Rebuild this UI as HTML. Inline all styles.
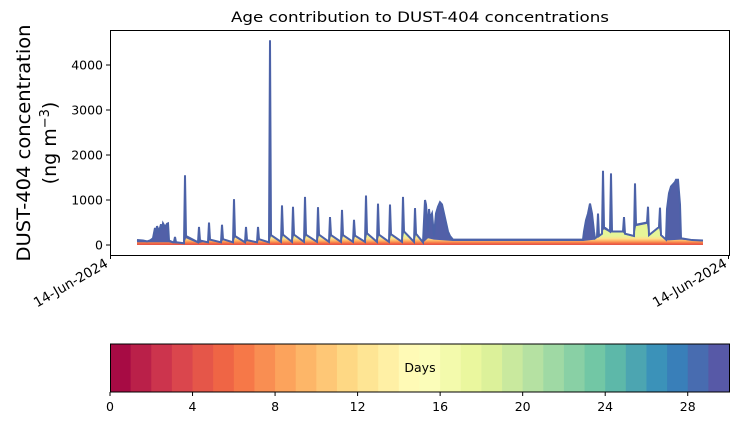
<!DOCTYPE html>
<html><head><meta charset="utf-8"><style>
body{margin:0;background:#fff;font-family:"Liberation Sans","DejaVu Sans",sans-serif}
svg text{font-family:"DejaVu Sans","Liberation Sans",sans-serif}
</style></head><body>
<svg id="c" width="739" height="425" viewBox="0 0 739 425" xmlns="http://www.w3.org/2000/svg">
<defs>
<linearGradient id="lg" x1="0" y1="245" x2="0" y2="236" gradientUnits="userSpaceOnUse">
<stop offset="0" stop-color="#e0504a"/><stop offset="0.2" stop-color="#f46d43"/><stop offset="0.45" stop-color="#fdae61"/><stop offset="0.7" stop-color="#fee08b"/><stop offset="1" stop-color="#e6f598"/>
</linearGradient>
</defs>
<text x="420" y="22" font-size="14.5" text-anchor="middle" textLength="378" lengthAdjust="spacingAndGlyphs">Age contribution to DUST-404 concentrations</text>
<g id="plot"></g>
<rect x="110.5" y="30.5" width="619" height="225" fill="none" stroke="#000" stroke-width="1"/>
<g id="yax"></g>
<text transform="translate(30,143) rotate(-90)" font-size="19" text-anchor="middle" textLength="237" lengthAdjust="spacingAndGlyphs">DUST-404 concentration</text>
<text transform="translate(56,143) rotate(-90)" font-size="19" text-anchor="middle">(ng m<tspan dy="-7" font-size="13">−3</tspan><tspan dy="7">)</tspan></text>
<line x1="110.5" y1="255" x2="110.5" y2="259" stroke="#000"/>
<line x1="728.5" y1="255" x2="728.5" y2="259" stroke="#000"/>
<text transform="translate(109,266) rotate(-30)" font-size="13.5" text-anchor="end">14-Jun-2024</text>
<text transform="translate(728,266) rotate(-30)" font-size="13.5" text-anchor="end">14-Jun-2024</text>
<g id="cb"></g>
</svg>
<script>
const totals=[[27,110],[33,100],[37,80],[40,100],[43,150],[45,380],[46,250],[47,420],[49,300],[51,460],[52,350],[53,480],[55,400],[57,470],[58,480],[59,100],[63,60],[64,70],[65,180],[66,60],[74,40],[75,1550],[76,200],[88,60],[89,400],[90,100],[98,60],[99,500],[100,120],[111,60],[112,450],[113,130],[123,60],[124,1020],[125,200],[135,60],[136,400],[137,110],[147,60],[148,400],[149,130],[159,60],[160,4550],[161,220],[171,70],[172,880],[173,230],[182,70],[183,850],[184,230],[194,70],[195,1070],[196,230],[207,70],[208,840],[209,230],[219,70],[220,620],[221,220],[231,70],[232,780],[233,220],[243,70],[244,560],[245,210],[255,70],[256,1100],[257,260],[267,70],[268,920],[269,230],[279,70],[280,900],[281,240],[292,70],[293,1070],[294,300],[304,70],[305,820],[306,250],[313,60],[315,1000],[316,900],[318,300],[319,800],[320,600],[322,700],[324,200],[326,700],[328,850],[330,950],[332,900],[334,700],[336,500],[338,300],[340,200],[343,120],[353,120],[473,120],[474,300],[476,550],[478,700],[480,920],[482,700],[484,300],[485,150],[487,180],[488,700],[489,200],[492,250],[493,1650],[494,400],[500,300],[501,1590],[502,300],[513,300],[514,620],[515,250],[524,200],[525,1370],[526,450],[537,500],[538,850],[539,220],[549,400],[550,830],[551,220],[556,120],[557,800],[559,1150],[561,1300],[563,1350],[565,1400],[566,1450],[568,1450],[570,900],[571,150],[582,110],[593,100]];
const aged=[[27,60],[59,60],[63,40],[74,30],[76,150],[88,40],[100,100],[111,40],[113,110],[123,40],[125,170],[135,40],[137,90],[147,40],[149,110],[159,40],[161,200],[171,50],[173,210],[182,50],[184,210],[194,50],[196,210],[207,50],[209,210],[219,50],[221,200],[231,50],[233,200],[243,50],[245,190],[255,50],[257,240],[267,50],[269,210],[279,50],[281,220],[292,50],[294,280],[304,50],[306,230],[313,50],[318,150],[324,120],[343,90],[473,90],[485,120],[494,350],[500,280],[502,280],[513,280],[515,230],[524,180],[526,420],[537,470],[539,200],[549,380],[551,200],[556,100],[571,120],[593,80]];
const yTicks=[0,1000,2000,3000,4000];
const cbTicks=[0,4,8,12,16,20,24,28];
const nDays=30;
const NS='http://www.w3.org/2000/svg';
const X0=110,Y0=245,PY=45/1000,CX0=110,CW=619;
const xs=t=>X0+t, ys=v=>Y0-v*PY;
function mk(tag,attrs,parent){const e=document.createElementNS(NS,tag);for(const k in attrs)e.setAttribute(k,attrs[k]);parent.appendChild(e);return e;}
const plot=document.getElementById('plot');
function areaPath(d){let p='M'+xs(d[0][0])+','+Y0;d.forEach(q=>p+=' L'+xs(q[0])+','+ys(q[1]));p+=' L'+xs(d[d.length-1][0])+','+Y0+' Z';return p;}
const ta=mk('path',{d:areaPath(totals),fill:'#5260a8'},plot);


const la=mk('path',{d:areaPath(aged),fill:'url(#lg)'},plot);


const tl=mk('polyline',{points:totals.map(q=>xs(q[0])+','+ys(q[1])).join(' '),fill:'none',stroke:'#4c62a8','stroke-width':2},plot);


const yax=document.getElementById('yax');
yTicks.forEach(v=>{
 const l=mk('line',{x1:106,x2:110,y1:ys(v),y2:ys(v),stroke:'#000'},yax);
 
 
 const t=mk('text',{x:103,y:ys(v)+4.5,'font-size':12.5,'text-anchor':'end'},yax);
 t.textContent=v;
 
 
});
const anchors=['#9e0142','#d53e4f','#f46d43','#fdae61','#fee08b','#ffffbf','#e6f598','#abdda4','#66c2a5','#3288bd','#5e4fa2'];
function hx(c){return [1,3,5].map(i=>parseInt(c.substr(i,2),16));}
function spec(f){const p=f*10,i=Math.min(9,Math.floor(p)),r=p-i,a=hx(anchors[i]),b=hx(anchors[i+1]);return 'rgb('+a.map((v,k)=>Math.round(v+(b[k]-v)*r)).join(',')+')';}
const cb=document.getElementById('cb');
const cx=d=>CX0+d*CW/nDays;
for(let i=0;i<nDays;i++){
 const r=mk('rect',{x:cx(i),y:344,width:CW/nDays+0.5,height:48,fill:spec((i+0.5)/nDays)},cb);
 
 
}
const fr=mk('rect',{x:110.5,y:344,width:619,height:48,fill:'none',stroke:'#000'},cb);


const dl=mk('text',{x:420,y:372,'font-size':12.5,'text-anchor':'middle'},cb);
dl.textContent='Days';


cbTicks.forEach(d=>{
 const l=mk('line',{x1:cx(d),x2:cx(d),y1:392,y2:396,stroke:'#000'},cb);
 
 
 const t=mk('text',{x:cx(d),y:411,'font-size':12.5,'text-anchor':'middle'},cb);
 t.textContent=d;
 
 
});
</script>
</body></html>
